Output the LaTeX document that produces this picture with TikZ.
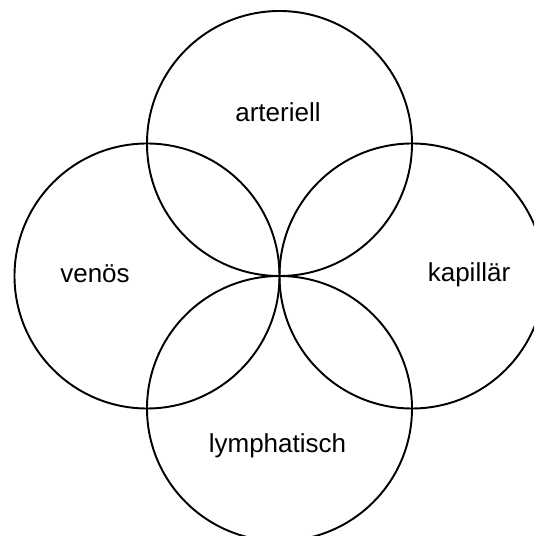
\documentclass[tikz,border=0pt]{standalone}
\usepackage{fontspec}
\setmainfont{Liberation Sans}
\usepackage{tikz}
\usetikzlibrary{positioning}

\tikzset{
    ring/.style={circle, draw, line width=1.1pt, minimum size=5.3cm, inner sep=0pt},
    tag/.style={anchor=base, font=\fontsize{14.8}{18}\selectfont}
}

\begin{document}
\begin{tikzpicture}
        \useasboundingbox (-5.59,5.52) rectangle (5.07,-5.2);
        % vier Kreise, die sich in der Mitte beruehren
        \node[ring] (art) at (0,2.65) {};
        \node[ring] (ven) at (-2.65,0) {};
        \node[ring] (kap) at (2.65,0) {};
        \node[ring] (lym) at (0,-2.65) {};
        % Beschriftungen
        \node[tag] (tart) at (-0.03,3.08) {arteriell};
        \node[tag] (tven) at (-3.69,-0.14) {venös};
        \node[tag] (tkap) at (3.79,-0.12) {kapillär};
        \node[tag] (tlym) at (-0.04,-3.53) {lymphatisch};
    \end{tikzpicture}
\end{document}
